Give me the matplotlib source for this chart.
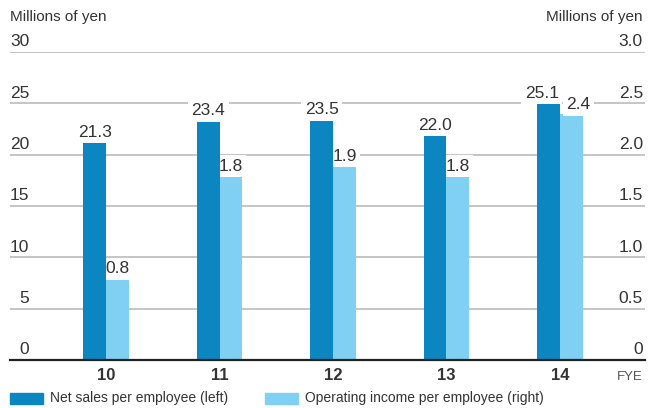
import matplotlib.pyplot as plt
import matplotlib.transforms as mtransforms
from matplotlib.patches import Rectangle

# fiscal years and per-employee figures (millions of yen)
years = ["10", "11", "12", "13", "14"]
net_sales = [21.3, 23.4, 23.5, 22.0, 25.1]
op_income = [0.8, 1.8, 1.9, 1.8, 2.4]

left_ticks = [0, 5, 10, 15, 20, 25, 30]
right_ticks = [0, 0.5, 1.0, 1.5, 2.0, 2.5, 3.0]
right_labels = ["0", "0.5", "1.0", "1.5", "2.0", "2.5", "3.0"]

DARK = "#0b86c1"
LIGHT = "#80d0f3"
TEXT = "#333333"
GRID = "#b5b5b5"

plt.rcParams["font.family"] = ["Liberation Sans", "DejaVu Sans"]

fig = plt.figure(figsize=(6.56, 4.08), dpi=100)
ax = fig.add_axes([10 / 656, 48 / 408, 635 / 656, 308 / 408])
ax2 = ax.twinx()
# right axis (light bars + rules) underneath, left axis (dark bars) on top
ax.set_zorder(ax2.get_zorder() + 1)
ax.patch.set_visible(False)

x = list(range(len(years)))
w = 0.2
ax.bar([i - w / 2 for i in x], net_sales, width=w, color=DARK, zorder=2)
ax2.bar([i + w / 2 for i in x], op_income, width=w, color=LIGHT, zorder=2)

ax.set_ylim(0, 30)
ax2.set_ylim(0, 3.0)
ax.set_xlim(-0.846, 4.749)

for a in (ax, ax2):
    for s in a.spines.values():
        s.set_visible(False)
    a.set_yticks([])
ax.set_xticks(x)
ax.set_xticklabels(years, fontsize=12, fontweight="bold", color=TEXT)
ax.tick_params(axis="x", length=0, pad=6)

# horizontal rules, with the zero line drawn dark
for t in right_ticks[1:]:
    ax2.axhline(t, color=GRID, lw=1.1, zorder=1)
ax.axhline(0, color="#222222", lw=1.6, zorder=3, clip_on=False)

# axis numbers sit above the rules
blend_l = mtransforms.blended_transform_factory(ax.transAxes, ax.transData)
for t in left_ticks:
    ax.annotate(str(t), xy=(0, t), xycoords=blend_l, xytext=(14, 2),
                textcoords="offset points", ha="right", va="bottom",
                fontsize=12.5, color=TEXT)
blend_r = mtransforms.blended_transform_factory(ax2.transAxes, ax2.transData)
for t, lab in zip(right_ticks, right_labels):
    ax2.annotate(lab, xy=(1, t), xycoords=blend_r, xytext=(-1.5, 2),
                 textcoords="offset points", ha="right", va="bottom",
                 fontsize=12.5, color=TEXT)

# value labels on a white box so they cut through the rules;
# pull the pair apart when both bar tops are at about the same height
box = dict(boxstyle="square,pad=0.2", fc="white", ec="none")
for i, (v, u) in enumerate(zip(net_sales, op_income)):
    nudge = 5 if abs(v / 10 - u) < 0.2 else 0
    ax.annotate(f"{v:.1f}", xy=(i - w / 2, v), xytext=(-nudge, 1),
                textcoords="offset points", ha="center", va="bottom",
                fontsize=12.5, color=TEXT, bbox=box, zorder=4)
    ax2.annotate(f"{u:.1f}", xy=(i + w / 2, u), xytext=(nudge, 1),
                 textcoords="offset points", ha="center", va="bottom",
                 fontsize=12.5, color=TEXT, bbox=box, zorder=4)

fig.text(10 / 656, 1 - 17 / 408, "Millions of yen", ha="left", va="center",
         fontsize=11, color=TEXT)
fig.text(643 / 656, 1 - 17 / 408, "Millions of yen", ha="right", va="center",
         fontsize=11, color=TEXT)
fig.text(643 / 656, 1 - 377 / 408, "FYE", ha="right", va="center",
         fontsize=9.5, color="#555555")

# legend row
fig.patches.append(Rectangle((10 / 656, 1 - 404 / 408), 33 / 656, 11 / 408,
                             transform=fig.transFigure, color=DARK))
fig.text(50 / 656, 1 - 398 / 408, "Net sales per employee (left)",
         ha="left", va="center", fontsize=10, color=TEXT)
fig.patches.append(Rectangle((265 / 656, 1 - 404 / 408), 33 / 656, 11 / 408,
                             transform=fig.transFigure, color=LIGHT))
fig.text(305 / 656, 1 - 398 / 408, "Operating income per employee (right)",
         ha="left", va="center", fontsize=10, color=TEXT)

fig.savefig("out.png", dpi=100)
